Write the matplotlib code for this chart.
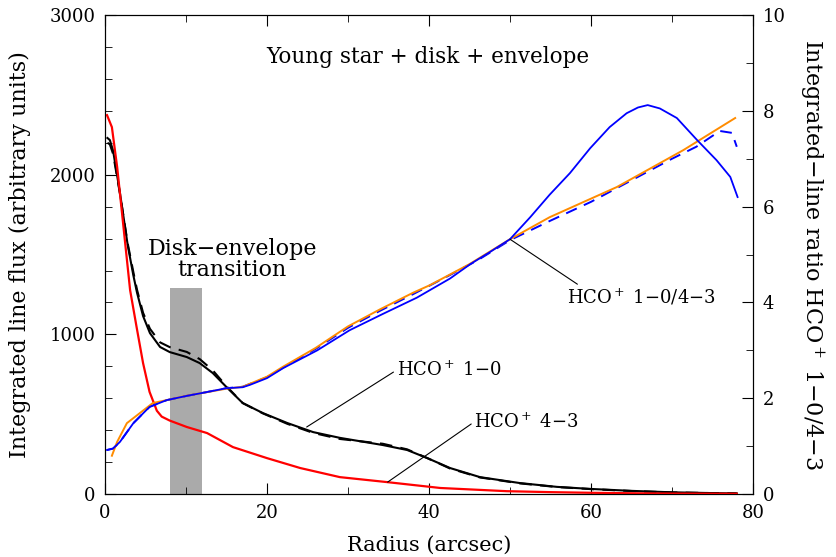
import matplotlib
matplotlib.use('Agg')
import matplotlib.pyplot as plt
import numpy as np

plt.rcParams['font.family'] = ['DejaVu Serif']
plt.rcParams['mathtext.fontset'] = 'dejavuserif'

# HCO+ 1-0 (solid and dashed), left axis
r10 = [0.3, 0.6, 1.0, 1.85, 2.8, 3.5, 3.95, 4.7, 5.55, 6.8, 8.0, 10.1, 11.7, 13.3, 15.0, 17.0,
       19.5, 22.5, 25.7, 29.0, 34.3, 37.3, 39.8, 42.6, 46.3, 51.2, 55.8, 60.0, 65.0, 70.0, 75.0, 78.0]
f10 = [2230, 2217, 2150, 1885, 1560, 1370, 1262, 1115, 1008, 921, 889, 858, 820, 758, 670, 570,
       507, 445, 388, 352, 307, 276, 225, 163, 106, 69, 45, 32, 20, 11, 6, 4]
r10d = [0.3, 0.6, 1.0, 1.85, 2.8, 3.5, 3.95, 4.7, 5.55, 6.8, 8.0, 10.1, 11.7, 13.3, 15.0, 17.0,
        19.5, 22.5, 25.7, 29.0, 34.3, 37.3, 39.8, 42.6, 46.3, 51.2, 55.8, 60.0, 65.0, 70.0, 75.0, 78.0]
f10d = [2200, 2190, 2130, 1880, 1570, 1390, 1280, 1135, 1035, 950, 920, 890, 845, 775, 675, 570,
        505, 440, 383, 345, 315, 280, 225, 160, 104, 67, 44, 31, 19, 10, 6, 4]

# HCO+ 4-3, left axis
r43 = [0.25, 0.85, 1.5, 2.1, 3.1, 3.9, 4.7, 5.5, 6.4, 7.0, 8.0, 10.1, 12.6, 15.8, 20.0, 24.1, 29.0,
       34.8, 41.4, 49.6, 55.0, 60.0, 65.0, 70.0, 78.0]
f43 = [2373, 2298, 2048, 1760, 1277, 1046, 820, 640, 522, 485, 460, 420, 382, 294, 225, 163, 106,
       75, 38, 18, 12, 8, 5, 3, 2]

# ratio 1-0/4-3, right axis
rb = [0.25, 1.0, 1.85, 3.5, 5.5, 7.6, 10.1, 12.6, 15.0, 17.0, 17.9, 20.0, 22.0, 26.2, 30.2, 34.3,
      38.5, 42.6, 45.1, 47.5, 50.0, 52.5, 54.9, 57.4, 59.9, 62.3, 64.4, 65.8, 67.0, 68.5, 70.6,
      73.1, 75.5, 77.2, 78.1]
qb = [0.92, 0.95, 1.09, 1.48, 1.82, 1.96, 2.05, 2.13, 2.21, 2.23, 2.28, 2.42, 2.63, 3.0, 3.42, 3.76,
      4.1, 4.5, 4.8, 5.05, 5.32, 5.78, 6.25, 6.7, 7.22, 7.66, 7.95, 8.07, 8.12, 8.05, 7.85,
      7.39, 6.97, 6.62, 6.2]
rbd = [0.25, 1.0, 1.85, 3.5, 5.5, 7.6, 10.1, 12.6, 15.0, 17.0, 20.0, 22.0, 26.0, 30.0, 34.0, 38.0,
       42.0, 46.0, 50.0, 54.9, 60.0, 65.0, 70.0, 73.0, 75.9, 77.4, 78.0]
qbd = [0.92, 0.95, 1.09, 1.48, 1.82, 1.96, 2.05, 2.13, 2.21, 2.24, 2.44, 2.64, 3.03, 3.47, 3.83, 4.17,
       4.52, 4.88, 5.3, 5.7, 6.1, 6.55, 7.0, 7.25, 7.58, 7.54, 7.25]
ro = [0.85, 1.5, 2.7, 4.3, 5.9, 7.6, 10.0, 15.0, 17.0, 20.0, 22.0, 26.0, 30.0, 34.0, 38.0, 40.1,
      45.0, 50.0, 54.9, 63.2, 71.4, 77.8]
qo = [0.8, 1.09, 1.48, 1.69, 1.9, 1.96, 2.05, 2.2, 2.24, 2.45, 2.66, 3.05, 3.5, 3.86, 4.2, 4.36,
      4.8, 5.32, 5.78, 6.41, 7.18, 7.85]

fig, ax = plt.subplots(figsize=(8.36, 5.57), dpi=100)
fig.subplots_adjust(left=0.1256, right=0.9007, top=0.973, bottom=0.113)
ax2 = ax.twinx()

# полоса перехода диск-оболочка
ax.axvspan(8, 12, ymin=0, ymax=1290 / 3000, color='#aaaaaa', lw=0, zorder=1)

ax.plot(r10d, f10d, color='black', lw=1.5, ls=(0, (6, 4)), zorder=3)
ax.plot(r10, f10, color='black', lw=1.5, zorder=3)
ax.plot(r43, f43, color='red', lw=1.6, zorder=3)

ax2.plot(rbd, qbd, color='blue', lw=1.4, ls=(0, (6, 4)))
ax2.plot(ro, qo, color='darkorange', lw=1.4)
ax2.plot(rb, qb, color='blue', lw=1.3)

ax.set_xlim(0, 80)
ax.set_ylim(0, 3000)
ax2.set_ylim(0, 10)

ax.set_xticks(np.arange(0, 81, 20))
ax.set_xticks(np.arange(0, 81, 10), minor=True)
ax.set_yticks(np.arange(0, 3001, 1000))
ax.set_yticks(np.arange(0, 3001, 200), minor=True)
ax2.set_yticks(np.arange(0, 11, 2))
ax2.set_yticks(np.arange(0, 11, 1), minor=True)

ax.tick_params(which='both', direction='in', top=True, right=False, labelsize=13, pad=7)
ax.tick_params(which='major', length=8)
ax.tick_params(which='minor', length=5)
ax2.tick_params(which='both', direction='in', labelsize=13, pad=7)
ax2.tick_params(which='major', length=8)
ax2.tick_params(which='minor', length=5)

ax.set_xlabel('Radius (arcsec)', fontsize=15, labelpad=10)
ax.set_ylabel('Integrated line flux (arbitrary units)', fontsize=16, labelpad=13)
ax2.set_ylabel('Integrated\u2212line ratio HCO$^+$ 1\u22120/4\u22123', fontsize=16,
               rotation=270, labelpad=29)

ax.text(39.9, 2737, 'Young star + disk + envelope', fontsize=15.5, ha='center', va='center')
ax.text(15.7, 1470, 'Disk\u2212envelope\ntransition', fontsize=16, ha='center', va='center',
        linespacing=0.95)

ax.annotate('HCO$^+$ 1\u22120', xy=(24.9, 420), xytext=(36.0, 776), fontsize=13,
            va='center', ha='left',
            arrowprops=dict(arrowstyle='-', color='black', lw=0.8, shrinkA=0, shrinkB=0,
                            relpos=(-0.03, 0.4)))
ax.annotate('HCO$^+$ 4\u22123', xy=(34.9, 75), xytext=(45.6, 451), fontsize=13,
            va='center', ha='left',
            arrowprops=dict(arrowstyle='-', color='black', lw=0.8, shrinkA=0, shrinkB=0,
                            relpos=(-0.03, 0.4)))
ax2.annotate('HCO$^+$ 1\u22120/4\u22123', xy=(50, 5.32), xytext=(57.0, 4.11), fontsize=13,
             va='center', ha='left',
             arrowprops=dict(arrowstyle='-', color='black', lw=0.8, shrinkA=0, shrinkB=0,
                             relpos=(0.1, 1.0)))

fig.savefig('out.png', dpi=100)
